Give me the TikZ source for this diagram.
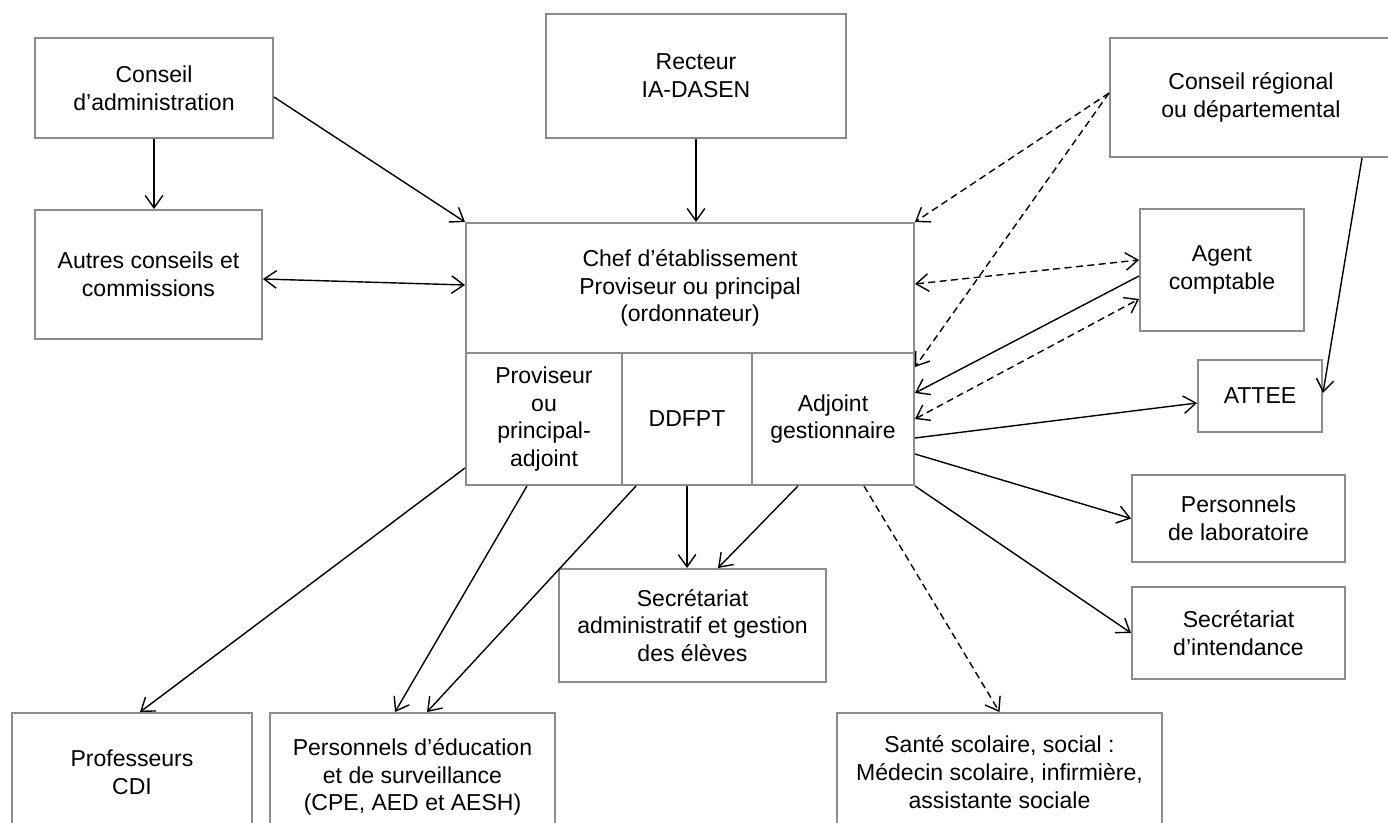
\documentclass[tikz,border=0pt]{standalone}
\usepackage{fontspec}
\setmainfont{Liberation Sans}
\usetikzlibrary{arrows.meta}

\begin{document}
\begin{tikzpicture}
		[box/.style={rectangle,draw=black!45,line width=1.1pt,fill=white,
inner sep=1pt,align=center,font=\fontsize{13.1}{15.8}\selectfont},
		>={Straight Barb[length=7pt,width=10pt]},
		edgestyle/.style={->,line width=0.8pt,black},
		twoway/.style={<->,line width=0.8pt,black},
		dashstyle/.style={dash pattern=on 4pt off 2.5pt}]
		\useasboundingbox (0,0) rectangle (27.76,-16.46);
		% top row
		\node at (3.08,-1.76) (cadm) [box,minimum width=4.76cm,minimum height=2.0cm] {Conseil\\d’administration};
		\node at (2.97,-5.49) (autres) [box,minimum width=4.54cm,minimum height=2.58cm] {Autres conseils et\\commissions};
		\node at (13.92,-1.52) (recteur) [box,minimum width=6.0cm,minimum height=2.48cm] {Recteur\\IA-DASEN};
		\node at (25.02,-1.95) (creg) [box,minimum width=5.64cm,minimum height=2.38cm] {Conseil régional\\ou départemental};
		% direction
		\node at (13.8,-5.76) (chef) [box,minimum width=8.96cm,minimum height=2.6cm] {Chef d’établissement\\Proviseur ou principal\\(ordonnateur)};
		\node at (10.88,-8.38) (prov) [box,minimum width=3.12cm,minimum height=2.64cm] {Proviseur\\ou\\principal-\\adjoint};
		\node at (13.74,-8.38) (ddfpt) [box,minimum width=2.6cm,minimum height=2.64cm] {DDFPT};
		\node at (16.66,-8.38) (adj) [box,minimum width=3.24cm,minimum height=2.64cm] {Adjoint\\gestionnaire};
		% right column
		\node at (24.44,-5.4) (agent) [box,minimum width=3.28cm,minimum height=2.44cm] {Agent\\comptable};
		\node at (25.2,-7.92) (attee) [box,minimum width=2.48cm,minimum height=1.44cm] {ATTEE};
		\node at (24.77,-10.37) (labo) [box,minimum width=4.26cm,minimum height=1.74cm] {Personnels\\de laboratoire};
		\node at (24.77,-12.66) (intend) [box,minimum width=4.26cm,minimum height=1.84cm] {Secrétariat\\d’intendance};
		% bottom
		\node at (13.85,-12.51) (secadm) [box,minimum width=5.34cm,minimum height=2.26cm] {Secrétariat\\administratif et gestion\\des élèves};
		\node at (2.64,-15.44) (prof) [box,minimum width=4.8cm,minimum height=2.36cm] {Professeurs\\CDI};
		\node at (8.25,-15.54) (peduc) [box,minimum width=5.7cm,minimum height=2.56cm] {Personnels d’éducation\\et de surveillance\\(CPE, AED et AESH)};
		\node at (19.99,-15.44) (sante) [box,minimum width=6.5cm,minimum height=2.36cm] {Santé scolaire, social :\\Médecin scolaire, infirmière,\\assistante sociale};

		% connectors
		\draw [edgestyle] (cadm.south) -- (cadm.south |- autres.north);
		\draw [edgestyle] ([yshift=-0.18cm]cadm.east) -- (chef.north west);
		\draw [twoway] ([yshift=-0.09cm]autres.east) -- ([yshift=0.06cm]chef.west);
		\draw [edgestyle] (recteur.south) -- (recteur.south |- chef.north);
		\draw [edgestyle,dashstyle] ([yshift=0.09cm]creg.west) -- (chef.north east);
		\draw [edgestyle,dashstyle] ([yshift=0.09cm]creg.west) -- ([yshift=-0.3cm]adj.north east);
		\draw [twoway,dashstyle] ([yshift=0.08cm]chef.east) -- ([yshift=0.2cm]agent.west);
		\draw [edgestyle] ([yshift=-0.12cm]agent.west) -- ([yshift=-0.82cm]adj.north east);
		\draw [twoway,dashstyle] (adj.east) -- ([yshift=-0.58cm]agent.west);
		\draw [edgestyle] ([xshift=2.22cm]creg.south) -- ([yshift=0.06cm]attee.east);
		\draw [edgestyle] ([yshift=-0.38cm]adj.east) -- ([yshift=-0.14cm]attee.west);
		\draw [edgestyle] ([yshift=-0.7cm]adj.east) -- (labo.west);
		\draw [edgestyle] (adj.south east) -- (intend.west);
		\draw [edgestyle,dashstyle] ([xshift=0.62cm]adj.south) -- (sante.north);
		\draw [edgestyle] ([xshift=-0.7cm]adj.south) -- ([xshift=0.51cm]secadm.north);
		\draw [edgestyle] (ddfpt.south) -- (ddfpt.south |- secadm.north);
		\draw [edgestyle] ([xshift=0.3cm]ddfpt.south west) -- ([xshift=0.29cm]peduc.north);
		\draw [edgestyle] ([xshift=-0.34cm]prov.south) -- ([xshift=-0.35cm]peduc.north);
		\draw [edgestyle] ([yshift=0.36cm]prov.south west) -- ([xshift=0.16cm]prof.north);
	\end{tikzpicture}
\end{document}
